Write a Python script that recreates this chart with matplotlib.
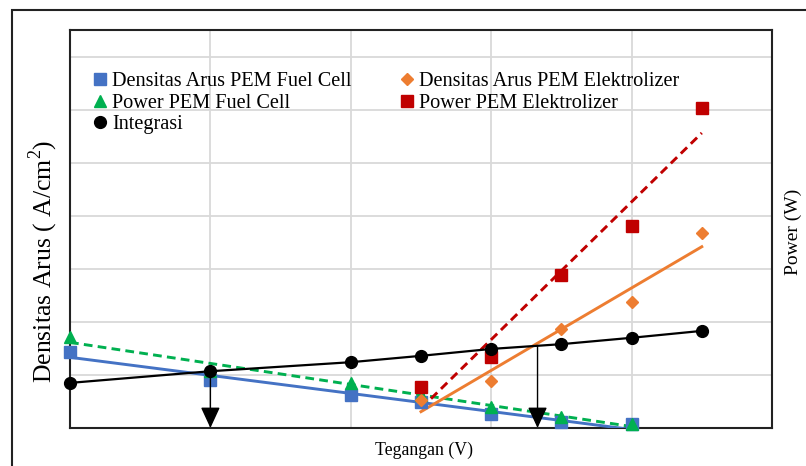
import numpy as np
import matplotlib.pyplot as plt
from matplotlib.patches import Rectangle

plt.rcParams['font.family'] = ['Liberation Serif', 'DejaVu Serif']
plt.rcParams['mathtext.fontset'] = 'custom'
plt.rcParams['mathtext.rm'] = 'Liberation Serif'

# data (x in grid units, values in grid units)
x_fc = [0, 2, 4, 5, 6, 7, 8]
densitas_fc = [1.43, 0.90, 0.62, 0.49, 0.26, 0.11, 0.07]
power_fc = [1.71, 1.08, 0.85, 0.62, 0.40, 0.21, 0.08]

x_el = [5, 6, 7, 8, 9]
densitas_el = [0.53, 0.88, 1.86, 2.37, 3.67]
power_el = [0.77, 1.34, 2.88, 3.80, 6.03]

x_int = [0, 2, 4, 5, 6, 7, 8, 9]
integrasi = [0.85, 1.07, 1.24, 1.36, 1.49, 1.58, 1.70, 1.83]

arrow_x = [2, 6.66]

c_blue = '#4472C4'
c_orange = '#ED7D31'
c_green = '#00B050'
c_red = '#C00000'

fig = plt.figure(figsize=(8.06, 4.66), dpi=100)
ax = fig.add_axes([70/806, 1-428/466, (772-70)/806, (428-30)/466])

def trend(x, y):
    k, b = np.polyfit(x, y, 1)
    xs = np.array([min(x), max(x)])
    return xs, k*xs + b

# trendlines
xs, ys = trend(x_fc, densitas_fc)
ax.plot(xs, ys, color=c_blue, lw=2.1, zorder=3)
xs, ys = trend(x_fc, power_fc)
ax.plot(xs, ys, color=c_green, lw=2.1, ls=(0, (3, 1.8)), zorder=3)
xs, ys = trend(x_el, densitas_el)
ax.plot(xs, ys, color=c_orange, lw=2.1, zorder=3)
xs, ys = trend(x_el, power_el)
ax.plot(xs, ys, color=c_red, lw=2.1, ls=(0, (3, 1.8)), zorder=3)

# markers
mk = dict(ls='none', clip_on=False, zorder=4)
h1, = ax.plot(x_fc, densitas_fc, 's', color=c_blue, ms=8.5,
              label='Densitas Arus PEM Fuel Cell', **mk)
h2, = ax.plot(x_fc, power_fc, '^', color=c_green, ms=8.5,
              label='Power PEM Fuel Cell', **mk)
h4, = ax.plot(x_el, densitas_el, 'D', color=c_orange, ms=6.5,
              label='Densitas Arus PEM Elektrolizer', **mk)
h5, = ax.plot(x_el, power_el, 's', color=c_red, ms=8.5,
              label='Power PEM Elektrolizer', **mk)
ax.plot(x_int, integrasi, '-', color='black', lw=1.6, zorder=5, clip_on=False)
h3, = ax.plot(x_int, integrasi, 'o', color='black', ms=8.5, ls='none',
              zorder=5, clip_on=False, label='Integrasi')

# arrows down to the axis
for xa in arrow_x:
    ya = np.interp(xa, x_int, integrasi)
    ax.annotate('', xy=(xa, 0), xytext=(xa, ya),
                arrowprops=dict(arrowstyle='-|>,head_length=0.65,head_width=0.3',
                                mutation_scale=20, color='black', lw=1,
                                shrinkA=0, shrinkB=0), zorder=6)

ax.set_xlim(0, 10)
ax.set_ylim(0, 7.5)
ax.set_xticks(np.arange(0, 11, 2))
ax.set_yticks(np.arange(0, 8, 1))
ax.grid(True, color='#D9D9D9', lw=1.3)
ax.set_axisbelow(True)
ax.tick_params(length=0, labelbottom=False, labelleft=False)
for s in ax.spines.values():
    s.set_color('#222222')
    s.set_linewidth(1.5)

ax.legend(handles=[h1, h2, h3, h4, h5], ncol=2, loc='upper left',
          bbox_to_anchor=(0.02, 0.915), frameon=False, fontsize=14.6,
          handlelength=0.8, handletextpad=0.2, columnspacing=2.3,
          labelspacing=0.12, borderaxespad=0)

fig.text(43/806, 1-261/466, 'Densitas Arus ( A/cm$^2$)', rotation=90,
         ha='center', va='center', fontsize=18.5)
fig.text(793/806, 1-232/466, 'Power (W)', rotation=90,
         ha='center', va='center', fontsize=14)
fig.text(424/806, 1-450/466, 'Tegangan (V)', ha='center', va='center', fontsize=12.8)

# outer frame
fig.patches.append(Rectangle((12/806, -0.1), 1.0, 1.1 - 10/466,
                             transform=fig.transFigure, fill=False,
                             edgecolor='#222222', lw=1.5))

plt.savefig('out.png', dpi=100)
